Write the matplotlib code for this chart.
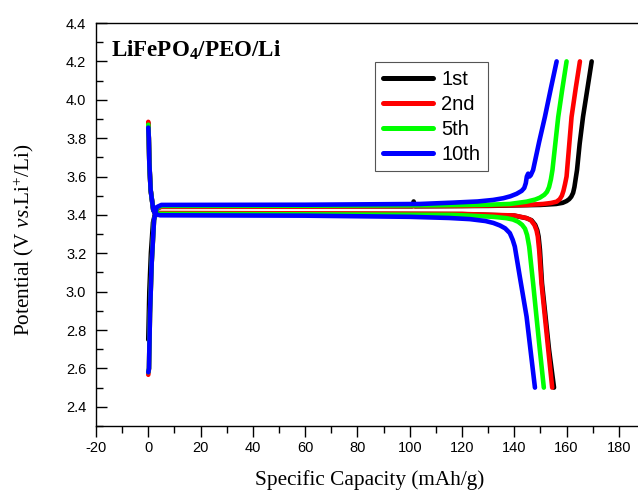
import matplotlib
matplotlib.use("Agg")
import matplotlib.pyplot as plt
from matplotlib.ticker import MultipleLocator, FormatStrFormatter

plt.rcParams['mathtext.fontset'] = 'custom'
plt.rcParams['mathtext.rm'] = 'Liberation Serif'
plt.rcParams['mathtext.it'] = 'Liberation Serif:italic'
plt.rcParams['mathtext.bf'] = 'Liberation Serif:bold'
plt.rcParams['axes.unicode_minus'] = False

# кривые заряда, ёмкость мАч/г и потенциал В
chg_cap_1 = [0.0, 0.4, 1.0, 1.8, 3.0, 5, 40, 101, 101.5, 102, 130, 150, 156, 158.5, 160.0, 161.0, 161.8, 162.5, 163.0, 163.5, 164.0, 165.0, 166.3, 168.0, 169.6]
chg_v_1 = [2.75, 3.0, 3.2, 3.36, 3.43, 3.445, 3.445, 3.445, 3.47, 3.445, 3.447, 3.452, 3.457, 3.463, 3.472, 3.482, 3.495, 3.515, 3.545, 3.59, 3.634, 3.77, 3.912, 4.06, 4.20]

chg_cap_2 = [0.0, 0.27, 0.65, 1.3, 2.2, 3.5, 5, 60, 120, 145, 151, 154, 156.2, 157.4, 158.2, 158.8, 159.4, 160.0, 161.9, 163.5, 165.1]
chg_v_2 = [2.567, 2.6, 2.888, 3.15, 3.374, 3.435, 3.442, 3.443, 3.447, 3.452, 3.457, 3.462, 3.469, 3.482, 3.50, 3.525, 3.56, 3.60, 3.91, 4.06, 4.20]

chg_cap_5 = [0.0, 0.27, 0.65, 1.3, 2.2, 3.5, 5, 60, 110, 130, 138.3, 144.7, 148, 149.8, 151.5, 152.5, 153.3, 154.0, 154.6, 156.8, 158.3, 160.0]
chg_v_5 = [2.58, 2.6, 2.888, 3.15, 3.374, 3.44, 3.447, 3.448, 3.45, 3.453, 3.457, 3.469, 3.48, 3.49, 3.505, 3.52, 3.545, 3.585, 3.634, 3.91, 4.05, 4.20]

chg_cap_10 = [0.0, 0.27, 0.65, 1.3, 2.2, 3.2, 5, 60, 103.9, 116.6, 126, 131.9, 135.8, 138.5, 140.9, 142.8, 143.8, 144.4, 144.8, 145.3, 145.8, 146.3, 147.2, 149.5, 151.7, 154.0, 156.2]
chg_v_10 = [2.58, 2.6, 2.888, 3.15, 3.374, 3.44, 3.452, 3.453, 3.457, 3.464, 3.47, 3.478, 3.487, 3.497, 3.51, 3.525, 3.54, 3.565, 3.60, 3.615, 3.60, 3.607, 3.634, 3.78, 3.91, 4.06, 4.20]

# кривые разряда
dis_cap_1 = [0.0, 0.2, 0.4, 0.9, 1.9, 2.6, 4.5, 60, 120, 140, 144.7, 146.6, 148.0, 148.8, 149.3, 149.8, 150.6, 153.3, 155.2]
dis_v_1 = [3.88, 3.80, 3.67, 3.53, 3.426, 3.41, 3.408, 3.406, 3.404, 3.396, 3.383, 3.372, 3.348, 3.32, 3.287, 3.22, 3.044, 2.697, 2.50]

dis_cap_2 = [0.0, 0.2, 0.4, 0.9, 1.9, 2.6, 4.5, 60, 120, 140, 144.5, 146.3, 147.7, 148.5, 149.0, 149.5, 150.4, 153.0, 154.5]
dis_v_2 = [3.885, 3.80, 3.67, 3.53, 3.426, 3.41, 3.41, 3.408, 3.405, 3.397, 3.384, 3.373, 3.348, 3.32, 3.287, 3.22, 3.044, 2.697, 2.50]

dis_cap_5 = [0.0, 0.2, 0.4, 0.9, 1.9, 2.6, 4.5, 60, 116.6, 123, 132, 137, 139.5, 141.5, 143.0, 144.1, 144.9, 145.7, 147.2, 149.5, 151.3]
dis_v_5 = [3.87, 3.80, 3.67, 3.53, 3.426, 3.41, 3.405, 3.403, 3.40, 3.396, 3.39, 3.383, 3.376, 3.364, 3.348, 3.328, 3.295, 3.235, 3.044, 2.732, 2.50]

dis_cap_10 = [0.0, 0.2, 0.4, 0.9, 1.9, 2.6, 4.5, 60, 100, 115, 123, 129, 132, 134.5, 136.5, 138.3, 139.4, 140.2, 142.1, 144.7, 147.9]
dis_v_10 = [3.855, 3.80, 3.67, 3.53, 3.426, 3.405, 3.398, 3.396, 3.39, 3.384, 3.378, 3.368, 3.358, 3.345, 3.33, 3.305, 3.27, 3.235, 3.079, 2.87, 2.50]

labels = ["1st", "2nd", "5th", "10th"]
colors = ["#000000", "#ff0000", "#00ff00", "#0000ff"]
charge = [(chg_cap_1, chg_v_1), (chg_cap_2, chg_v_2), (chg_cap_5, chg_v_5), (chg_cap_10, chg_v_10)]
discharge = [(dis_cap_1, dis_v_1), (dis_cap_2, dis_v_2), (dis_cap_5, dis_v_5), (dis_cap_10, dis_v_10)]

fig = plt.figure(figsize=(6.38, 4.91), dpi=100)
ax = fig.add_axes([96/638, 65/491, 549/638, 403/491])

for lab, col, (cx, cy), (dx, dy) in zip(labels, colors, charge, discharge):
    kw = dict(color=col, lw=3.3, solid_capstyle='round', solid_joinstyle='round')
    ax.plot(cx, cy, label=lab, **kw)
    ax.plot(dx, dy, **kw)

ax.set_xlim(-20, 190)
ax.set_ylim(2.3, 4.4)
ax.xaxis.set_major_locator(MultipleLocator(20))
ax.xaxis.set_minor_locator(MultipleLocator(10))
ax.yaxis.set_major_locator(MultipleLocator(0.2))
ax.yaxis.set_minor_locator(MultipleLocator(0.1))
ax.yaxis.set_major_formatter(FormatStrFormatter('%.1f'))
ax.tick_params(axis='x', which='major', direction='out', length=8, width=1, pad=3)
ax.tick_params(axis='x', which='minor', direction='out', length=5, width=1)
ax.tick_params(axis='y', which='major', direction='in', length=8, width=1, pad=7)
ax.tick_params(axis='y', which='minor', direction='in', length=5, width=1)
for t in ax.get_xticklabels() + ax.get_yticklabels():
    t.set_fontfamily('Liberation Sans')
    t.set_fontsize(10.5)
for s in ax.spines.values():
    s.set_linewidth(1.0)

leg = ax.legend(loc='upper left', bbox_to_anchor=(375/638, 1 - 62/491),
                bbox_transform=fig.transFigure, borderaxespad=0,
                prop={'family': 'Liberation Sans', 'size': 14.5},
                handlelength=2.5, handletextpad=0.4, labelspacing=0.3,
                borderpad=0.38, fancybox=False, framealpha=1, edgecolor='#555555')
leg.get_frame().set_linewidth(0.8)
for h in leg.get_lines():
    h.set_linewidth(3.6)

fig.text(111/638, 1 - 57/491, r'LiFePO$_{\mathbf{4}}$/PEO/Li', family='Liberation Serif',
         fontweight='bold', fontsize=16.6, ha='left', va='baseline')
fig.text(370/638, 1 - 485/491, 'Specific Capacity (mAh/g)', family='Liberation Serif',
         fontsize=15.3, ha='center', va='baseline')
fig.text(23.5/638, 1 - 240/491, r'Potential (V $\mathit{vs}$.Li$^{+}$/Li)', family='Liberation Serif',
         fontsize=15.3, rotation=90, ha='center', va='center')

fig.savefig('out.png', dpi=100)
